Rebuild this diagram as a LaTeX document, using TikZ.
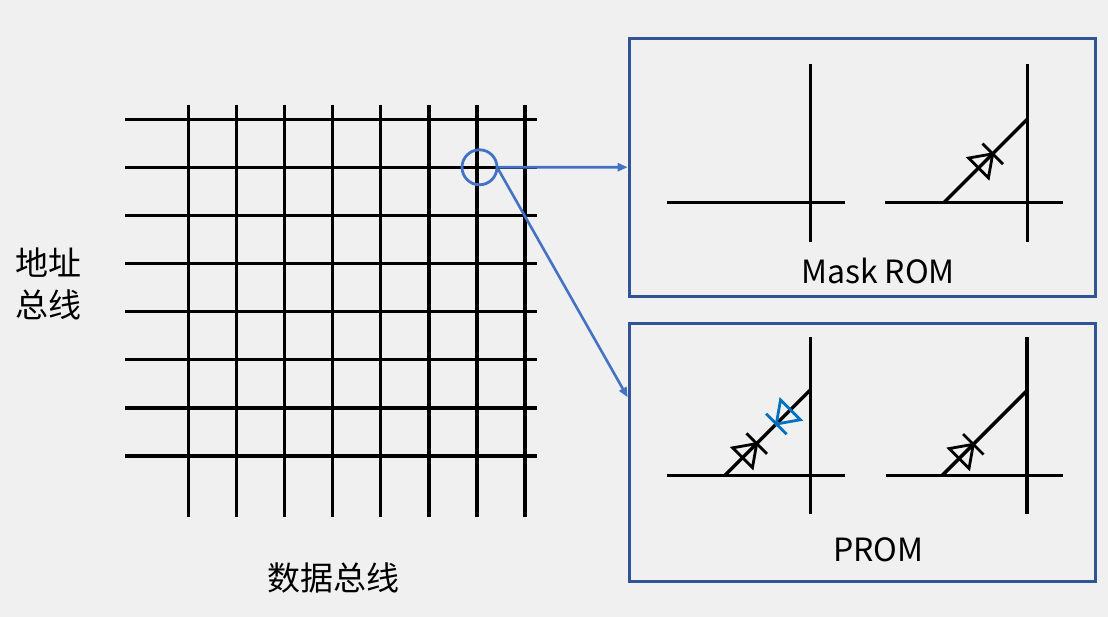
\documentclass[tikz,border=0pt]{standalone}
\usepackage{fontspec}
\setmainfont{Noto Sans CJK SC}
\usetikzlibrary{arrows.meta,calc}
\definecolor{bgcol}{HTML}{F0F0F0}
\definecolor{framecol}{HTML}{2F5597}
\definecolor{linkcol}{HTML}{4472C4}
\definecolor{fusecol}{HTML}{0070C0}
\tikzset{wire/.style={line width=3.4pt,black}}
\tikzset{framebox/.style={draw=framecol,line width=3pt,minimum width=466pt,minimum height=258pt,inner sep=0pt}}
\tikzset{pickring/.style={draw=linkcol,line width=2.8pt,circle,minimum size=35pt,inner sep=0pt}}
\tikzset{link/.style={linkcol,line width=2.6pt,-{Triangle[length=10pt,width=8pt]}}}
\tikzset{cjklabel/.style={font=\fontsize{33}{42}\selectfont,inner sep=0pt,align=center}}
\tikzset{romlabel/.style={font=\fontsize{32}{38}\selectfont,inner sep=0pt,anchor=base}}
\newcommand{\diode}[3]{% position, angle, colour
	\begin{scope}[shift={#1},rotate=#2]
		\draw[line width=2.8pt,#3] (0,-14.5) -- (0,14.5);
		\draw[line width=2.8pt,#3,line join=miter] (0,0) -- (-20,14) -- (-20,-14) -- cycle;
	\end{scope}}

\begin{document}
\begin{tikzpicture}[x=1pt,y=-1pt]
	\useasboundingbox (0,0) rectangle (1108,617);
	\fill[bgcol] (0,0) rectangle (1108,617); %background

	% word lines and bit lines
	\foreach \k in {0,...,7}
		\draw[wire] (125,{119.3+48.1*\k}) -- (537,{119.3+48.1*\k});
	\foreach \k in {0,...,7}
		\draw[wire] ({188.3+48.1*\k},105) -- ({188.3+48.1*\k},516.7);

	\node[cjklabel] (addrbus) at (48.5,284) {地址\\总线};
	\node[cjklabel] (databus) at (333,577.5) {数据总线};

	\node[pickring] (pick) at (479.5,167.3) {};

	\node[framebox] (maskbox) at (862.2,167.2) {};
	\node[framebox] (prombox) at (862.2,452.2) {};

	\coordinate (promin) at ($(prombox.north west)!0.29!(prombox.south west)$);
	\draw[link] (pick.east) -- (maskbox.west);
	\draw[link] (pick.-6) -- (promin);

	% Mask ROM: open cell, diode cell
	\draw[wire] (667.3,202.5) -- (845,202.5);
	\draw[wire] (810.3,64.5) -- (810.3,241.8);
	\draw[wire] (885.3,202.5) -- (1063.3,202.5);
	\draw[wire] (1027.3,64.5) -- (1027.3,241.8);
	\draw[wire] (944,202.5) -- (1027.3,119.2);
	\diode{(992.7,153.8)}{45}{black}

	\node[romlabel] (masklabel) at (878,283.3) {Mask ROM};

	% PROM: diode + fuse cell, diode cell
	\draw[wire] (667.3,475.3) -- (845,475.3);
	\draw[wire] (810.3,337.3) -- (810.3,514.3);
	\draw[wire] (725,475.3) -- (810.3,390);
	\diode{(756.7,443.6)}{45}{black}
	\diode{(776.3,424)}{225}{fusecol}
	\draw[wire] (885.7,475.3) -- (1063.3,475.3);
	\draw[wire] (1027,337.3) -- (1027,514.3);
	\draw[wire] (942.3,475.3) -- (1027,390.6);
	\diode{(973.3,444.3)}{45}{black}

	\node[romlabel] (promlabel) at (878.3,561.7) {PROM};
\end{tikzpicture}
\end{document}
